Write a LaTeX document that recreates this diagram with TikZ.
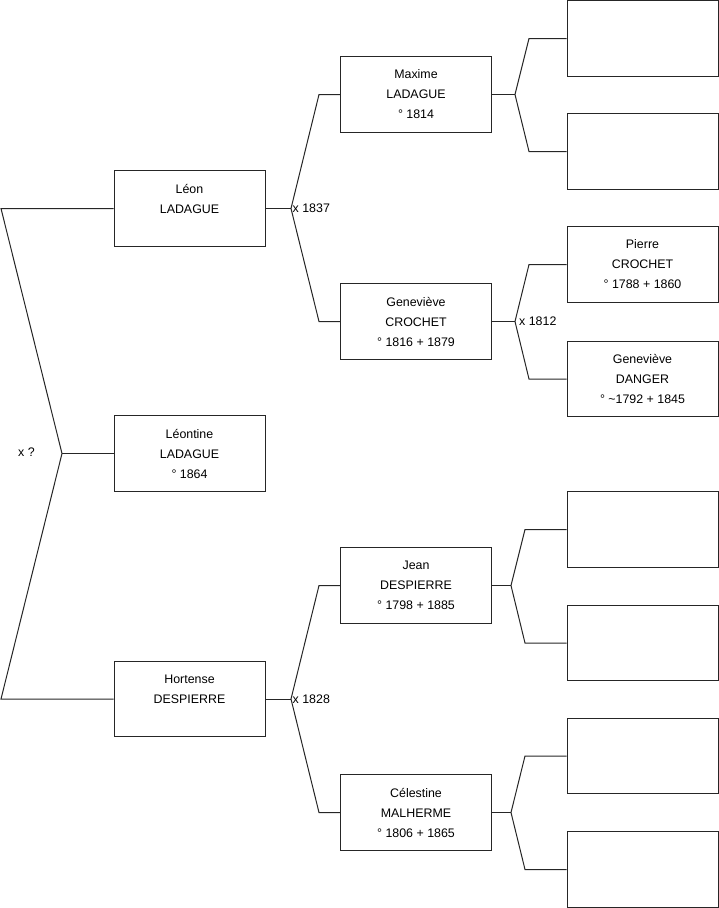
\documentclass[tikz,border=0pt]{standalone}
\usepackage{fontspec}
\setmainfont{Liberation Sans}
\begin{document}
\begin{tikzpicture}[x=1pt,y=-1pt,
  person/.style={draw=black!85, line width=1pt, minimum width=151pt, minimum height=75.5pt,
    inner sep=0pt, align=center, font=\fontsize{12.4}{20}\selectfont, anchor=center},
  link/.style={draw=black!85, line width=1pt},
  lab/.style={font=\fontsize{12.4}{15}\selectfont, inner sep=0pt, anchor=west}]
\useasboundingbox (0,0) rectangle (719,908);
% generation 1 (left column)
\node[person] (leon) at (189.5,208.5) {Léon\\LADAGUE\\~};
\node[person] (leontine) at (189.5,453.5) {Léontine\\LADAGUE\\° 1864};
\node[person] (hortense) at (189.5,699) {Hortense\\DESPIERRE\\~};
% generation 2 (middle column)
\node[person] (maxime) at (416,94.5) {Maxime\\LADAGUE\\° 1814};
\node[person] (genevieve) at (416,321.5) {Geneviève\\CROCHET\\° 1816 + 1879};
\node[person] (jean) at (416,585.5) {Jean\\DESPIERRE\\° 1798 + 1885};
\node[person] (celestine) at (416,812.5) {Célestine\\MALHERME\\° 1806 + 1865};
% generation 3 (right column)
\node[person] (r1) at (642.5,38.5) {};
\node[person] (r2) at (642.5,151.5) {};
\node[person] (pierre) at (642.5,264.5) {Pierre\\CROCHET\\° 1788 + 1860};
\node[person] (danger) at (642.5,379) {Geneviève\\DANGER\\° \textasciitilde1792 + 1845};
\node[person] (r5) at (642.5,529.5) {};
\node[person] (r6) at (642.5,643) {};
\node[person] (r7) at (642.5,756) {};
\node[person] (r8) at (642.5,869.5) {};
% junction points
\coordinate (a0) at (1,208.5);
\coordinate (a1) at (62,453.5);
\coordinate (a2) at (1,699);
\coordinate (j1) at (291,208.5);
\coordinate (j1a) at (319,94.5);
\coordinate (j1b) at (319,321.5);
\coordinate (j2) at (515,94.5);
\coordinate (j2a) at (529,38.5);
\coordinate (j2b) at (529,151.5);
\coordinate (j3) at (515,321.5);
\coordinate (j3a) at (529,264.5);
\coordinate (j3b) at (529,379);
\coordinate (j4) at (291,699);
\coordinate (j4a) at (319,585.5);
\coordinate (j4b) at (319,812.5);
\coordinate (j5) at (511,585.5);
\coordinate (j5a) at (525,529.5);
\coordinate (j5b) at (525,643);
\coordinate (j6) at (511,812.5);
\coordinate (j6a) at (525,756);
\coordinate (j6b) at (525,869.5);
% connectors
\draw[link] (leon.west) -- (a0) -- (a1) -- (a2) -- (hortense.west);
\draw[link] (a1) -- (leontine.west);
\draw[link] (leon.east) -- (j1);
\draw[link] (maxime.west) -- (j1a) -- (j1) -- (j1b) -- (genevieve.west);
\draw[link] (maxime.east) -- (j2);
\draw[link] (r1.west) -- (j2a) -- (j2) -- (j2b) -- (r2.west);
\draw[link] (genevieve.east) -- (j3);
\draw[link] (pierre.west) -- (j3a) -- (j3) -- (j3b) -- (danger.west);
\draw[link] (hortense.east) -- (j4);
\draw[link] (jean.west) -- (j4a) -- (j4) -- (j4b) -- (celestine.west);
\draw[link] (jean.east) -- (j5);
\draw[link] (r5.west) -- (j5a) -- (j5) -- (j5b) -- (r6.west);
\draw[link] (celestine.east) -- (j6);
\draw[link] (r7.west) -- (j6a) -- (j6) -- (j6b) -- (r8.west);
% marriage labels
\node[lab] (m0) at (18,452) {x ?};
\node[lab] (m1) at (292.5,208.5) {x 1837};
\node[lab] (m2) at (519,321) {x 1812};
\node[lab] (m3) at (292.5,699) {x 1828};
\end{tikzpicture}
\end{document}
